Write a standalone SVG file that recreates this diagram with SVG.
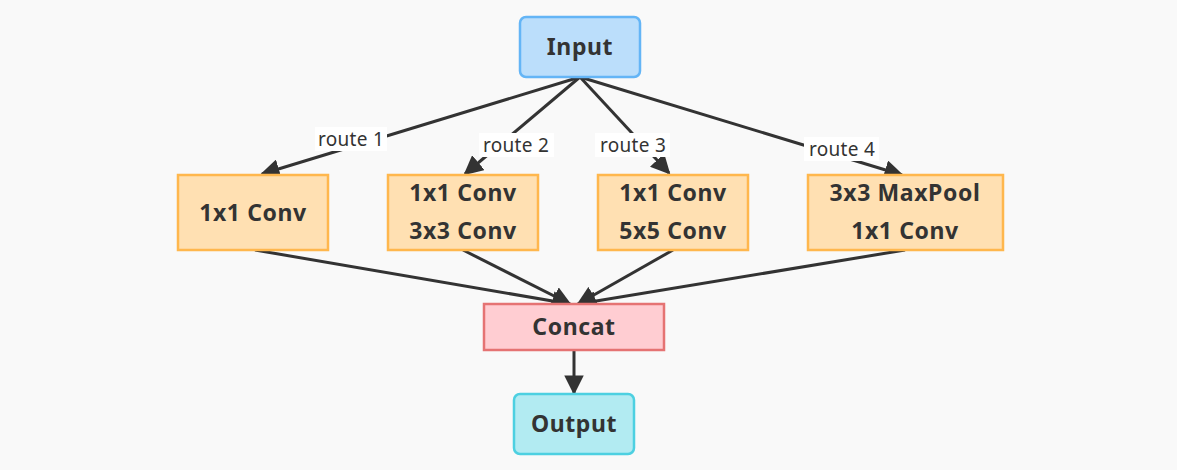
<svg xmlns="http://www.w3.org/2000/svg" width="1177" height="470" viewBox="0 0 1177 470">
<defs>
<marker id="ah" viewBox="0 0 10 10" refX="9" refY="5" markerWidth="6.5" markerHeight="6.5" orient="auto" markerUnits="strokeWidth">
<path d="M0,0 L10,5 L0,10 z" fill="#333"/>
</marker>
<style>
.n text{font-family:"Noto Sans","Open Sans",sans-serif;font-weight:bold;font-size:23px;letter-spacing:0.6px;fill:#333;text-anchor:middle}
.e line{stroke:#333;stroke-width:3;marker-end:url(#ah)}
.lb{font-family:"Noto Sans","Open Sans",sans-serif;font-size:19px;letter-spacing:0.3px;fill:#333;text-anchor:middle}
.conv{fill:#ffe0b2;stroke:#ffb74d;stroke-width:2.5}
</style>
</defs>
<rect width="1177" height="470" fill="#f9f9f9"/>
<g class="e" id="connectors">
<line x1="580" y1="77" x2="262" y2="174"/>
<line x1="580" y1="77" x2="465" y2="174"/>
<line x1="580" y1="77" x2="669" y2="173"/>
<line x1="580" y1="77" x2="902" y2="175"/>
<line x1="255" y1="250" x2="570" y2="304"/>
<line x1="463" y1="250" x2="570" y2="304"/>
<line x1="673" y1="250" x2="578" y2="304"/>
<line x1="905" y1="250" x2="578" y2="304"/>
<line x1="574" y1="350" x2="574" y2="393"/>
<rect x="315" y="127" width="72" height="24" fill="#fff"/>
<rect x="479" y="133" width="75" height="24" fill="#fff"/>
<rect x="595" y="133" width="75" height="24" fill="#fff"/>
<rect x="804" y="137" width="75" height="24" fill="#fff"/>
<text class="lb" x="351" y="146">route 1</text>
<text class="lb" x="516" y="152">route 2</text>
<text class="lb" x="633" y="152">route 3</text>
<text class="lb" x="842" y="156">route 4</text>
</g>
<g class="n" id="input"><rect x="520" y="17" width="120" height="60" rx="6" fill="#bbdefb" stroke="#64b5f6" stroke-width="2.5"/><text x="580" y="55">Input</text></g>
<g class="n" id="b1"><rect class="conv" x="178" y="175" width="150" height="75"/><text x="253" y="221">1x1 Conv</text></g>
<g class="n" id="b2"><rect class="conv" x="388" y="175" width="150" height="75"/><text x="463" y="201">1x1 Conv</text><text x="463" y="239">3x3 Conv</text></g>
<g class="n" id="b3"><rect class="conv" x="598" y="175" width="150" height="75"/><text x="673" y="201">1x1 Conv</text><text x="673" y="239">5x5 Conv</text></g>
<g class="n" id="b4"><rect class="conv" x="808" y="175" width="195" height="75"/><text x="905" y="201">3x3 MaxPool</text><text x="905" y="239">1x1 Conv</text></g>
<g class="n" id="concat"><rect x="484" y="304" width="180" height="46" fill="#ffcdd2" stroke="#e57373" stroke-width="2.5"/><text x="574" y="335">Concat</text></g>
<g class="n" id="output"><rect x="514" y="394" width="120" height="60" rx="6" fill="#b2ebf2" stroke="#4dd0e1" stroke-width="2.5"/><text x="574" y="432">Output</text></g>
</svg>
